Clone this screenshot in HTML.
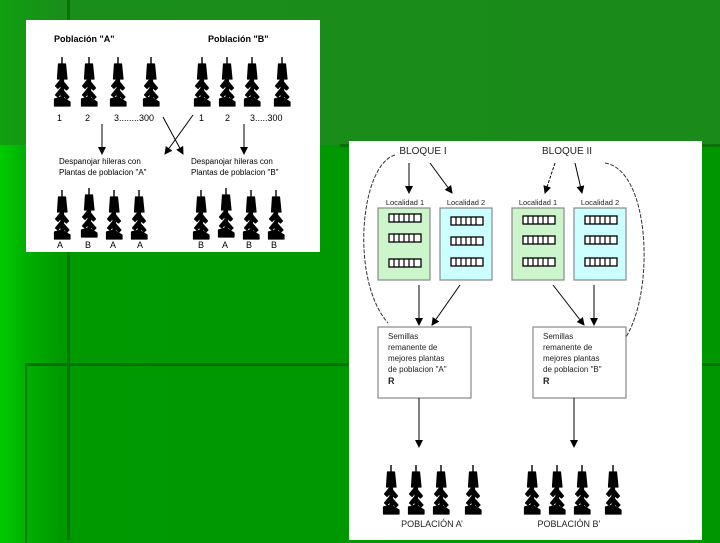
<!DOCTYPE html>
<html><head><meta charset="utf-8"><style>
html,body{margin:0;padding:0}
body{width:720px;height:540px;position:relative;overflow:hidden;background:linear-gradient(90deg,#00cc00 0px,#00b000 25px,#009900 60px,#009600 100%);font-family:"Liberation Sans",sans-serif}
.a{position:absolute}
</style></head><body>
<div class="a" style="left:0;top:0;width:720px;height:145px;background:linear-gradient(90deg,#10a010 0px,#1a8e1a 60px,#1a8a1a 100%)"></div>
<div class="a" style="left:67px;top:0;width:3px;height:540px;background:#0a700a"></div>
<div class="a" style="left:25px;top:363px;width:700px;height:3px;background:#0a700a"></div>
<div class="a" style="left:25px;top:363px;width:2px;height:180px;background:#0a7a0a"></div>
<div class="a" style="left:340px;top:144px;width:380px;height:3px;background:#0a700a"></div>
<svg class="a" style="left:0;top:0" width="720" height="540" viewBox="0 0 720 540">
<defs>
<g id="p" fill="#000" stroke="#000" stroke-width="1.2" stroke-linejoin="round">
<rect x="7.3" y="0" width="1.4" height="8" stroke="none"/>
<polygon points="4.5,7 11.5,7 13,22 10.5,22 9.5,12 7,12 6,22 3.5,22"/>
<rect x="7" y="8" width="2.5" height="38"/>
<polygon points="8,21 1.5,29 4,31.5 8,27"/>
<polygon points="8,23 14.5,31 12.5,33 8,29"/>
<polygon points="8,30 1.5,38 4,40 8,35"/>
<polygon points="8,32 15,40 13,42 8,37"/>
<polygon points="0.5,42 8,40 16,45 16,49 0.5,49"/>
</g>
<marker id="ar" markerWidth="8" markerHeight="8" refX="7" refY="4" orient="auto" markerUnits="userSpaceOnUse"><path d="M0,0 L8,4 L0,8 z" fill="#000"/></marker>
<g id="g"><rect x="0" y="0" width="32" height="8" fill="#fff" stroke="#000" stroke-width="1.3"/><path d="M5,0v8M10,0v8M15,0v8M20,0v8M25,0v8" stroke="#000" stroke-width="1.2"/></g>
</defs>
<rect x="26" y="20" width="294" height="232" fill="#fff"/>
<g font-size="9" fill="#000">
<text x="54" y="42" font-weight="bold">Población "A"</text>
<text x="208" y="42" font-weight="bold">Población "B"</text>
<text x="57" y="121">1</text><text x="85" y="121">2</text><text x="114" y="121">3........300</text>
<text x="199" y="121">1</text><text x="225" y="121">2</text><text x="250" y="121">3.....300</text>
<text x="59" y="164" font-size="8">Despanojar hileras con</text>
<text x="59" y="175" font-size="8">Plantas de poblacion "A"</text>
<text x="191" y="164" font-size="8">Despanojar hileras con</text>
<text x="191" y="175" font-size="8">Plantas de poblacion "B"</text>
<text x="57" y="248">A</text><text x="85" y="248">B</text><text x="110" y="248">A</text><text x="137" y="248">A</text>
<text x="198" y="248">B</text><text x="222" y="248">A</text><text x="246" y="248">B</text><text x="271" y="248">B</text>
</g>
<use href="#p" x="54" y="57"/><use href="#p" x="81" y="57"/><use href="#p" x="110" y="57"/><use href="#p" x="143" y="57"/>
<use href="#p" x="194" y="57"/><use href="#p" x="219" y="57"/><use href="#p" x="244" y="57"/><use href="#p" x="274" y="57"/>
<use href="#p" x="54" y="190"/><use href="#p" x="81" y="188"/><use href="#p" x="106" y="190"/><use href="#p" x="131" y="190"/>
<use href="#p" x="193" y="190"/><use href="#p" x="218" y="188"/><use href="#p" x="243" y="190"/><use href="#p" x="268" y="190"/>
<g stroke="#000" stroke-width="1" fill="none" marker-end="url(#ar)">
<line x1="102" y1="124" x2="102" y2="154"/><line x1="244" y1="124" x2="244" y2="154"/>
<line x1="163" y1="117" x2="183" y2="154"/><line x1="193" y1="115" x2="165" y2="154"/>
</g>
<rect x="349" y="141" width="353" height="399" fill="#fff"/>
<g font-size="10" fill="#222">
<text x="423" y="154" text-anchor="middle">BLOQUE  I</text>
<text x="567" y="154" text-anchor="middle">BLOQUE  II</text>
</g>
<g font-size="7.5" fill="#222" text-anchor="middle">
<text x="405" y="205">Localidad 1</text><text x="466" y="205">Localidad 2</text>
<text x="538" y="205">Localidad 1</text><text x="600" y="205">Localidad 2</text>
</g>
<rect x="378" y="208" width="52" height="72" fill="#ccf5cc" stroke="#888" stroke-width="1.2"/>
<rect x="440" y="208" width="52" height="72" fill="#ccffff" stroke="#888" stroke-width="1.2"/>
<rect x="512" y="208" width="52" height="72" fill="#ccf5cc" stroke="#888" stroke-width="1.2"/>
<rect x="574" y="208" width="52" height="72" fill="#ccffff" stroke="#888" stroke-width="1.2"/>
<use href="#g" x="389" y="214"/><use href="#g" x="389" y="234"/><use href="#g" x="389" y="259"/>
<use href="#g" x="451" y="217"/><use href="#g" x="451" y="237"/><use href="#g" x="451" y="258"/>
<use href="#g" x="523" y="216"/><use href="#g" x="523" y="236"/><use href="#g" x="523" y="258"/>
<use href="#g" x="585" y="216"/><use href="#g" x="585" y="236"/><use href="#g" x="585" y="258"/>
<rect x="378" y="327" width="93" height="71" fill="#fff" stroke="#888" stroke-width="1.2"/>
<rect x="533" y="327" width="93" height="71" fill="#fff" stroke="#888" stroke-width="1.2"/>
<g font-size="8" fill="#222">
<text x="388" y="339">Semillas</text><text x="388" y="350">remanente de</text><text x="388" y="361">mejores plantas</text><text x="388" y="372">de poblacion "A"</text>
<text x="543" y="339">Semillas</text><text x="543" y="350">remanente de</text><text x="543" y="361">mejores plantas</text><text x="543" y="372">de poblacion "B"</text>
<text x="388" y="384" font-weight="bold" font-size="9">R</text><text x="543" y="384" font-weight="bold" font-size="9">R</text>
</g>
<g stroke="#000" stroke-width="1" fill="none" marker-end="url(#ar)">
<line x1="409" y1="163" x2="409" y2="193"/><line x1="430" y1="163" x2="452" y2="193"/>
<line x1="555" y1="163" x2="545" y2="193" stroke-dasharray="3,1.5"/><line x1="575" y1="163" x2="582" y2="193"/>
<line x1="419" y1="285" x2="419" y2="325"/><line x1="460" y1="285" x2="432" y2="325"/>
<line x1="553" y1="285" x2="584" y2="325"/><line x1="594" y1="285" x2="594" y2="325"/>
<line x1="419" y1="398" x2="419" y2="447"/><line x1="574" y1="398" x2="574" y2="447"/>
</g>
<g stroke="#333" stroke-width="1" fill="none" stroke-dasharray="4,1.5">
<path d="M395,155 C360,165 350,280 388,323"/>
<path d="M605,163 C650,170 655,290 626,337"/>
</g>
<use href="#p" x="383" y="465"/><use href="#p" x="408" y="465"/><use href="#p" x="433" y="465"/><use href="#p" x="465" y="465"/>
<use href="#p" x="524" y="465"/><use href="#p" x="549" y="465"/><use href="#p" x="574" y="465"/><use href="#p" x="605" y="465"/>
<g font-size="9" fill="#222" text-anchor="middle">
<text x="432" y="527">POBLACIÓN A’</text><text x="569" y="527">POBLACIÓN  B’</text>
</g>
</svg>
</body></html>
